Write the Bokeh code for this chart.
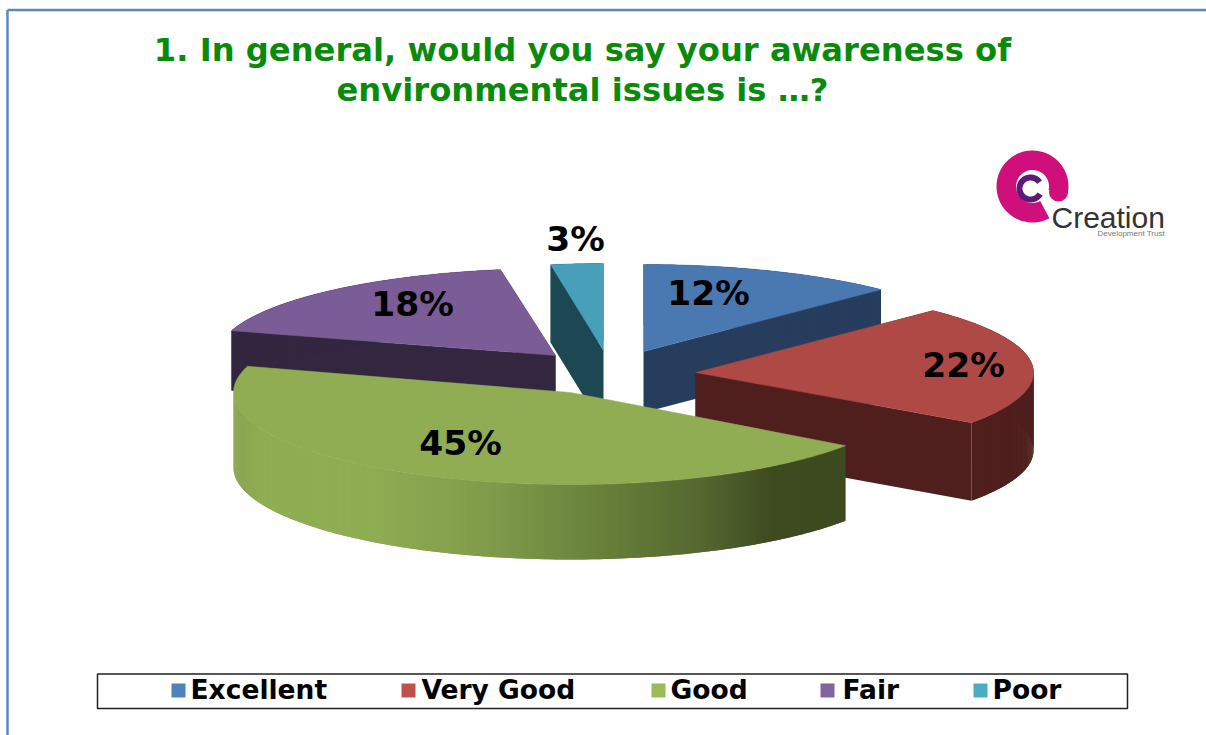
import math
from bokeh.plotting import figure
from bokeh.models import Range1d
from bokeh.core.properties import value
from bokeh.embed import file_html
from bokeh.resources import INLINE

title_lines = ["1. In general, would you say your awareness of", "environmental issues is …?"]
categories = ["Excellent", "Very Good", "Good", "Fair", "Poor"]
shares = [12.4, 22.4, 44.8, 17.8, 2.6]

legend_colors = ["#4F81BD", "#C0504D", "#9BBB59", "#8064A2", "#4BACC6"]
top_colors = ["#4A78B0", "#AE4946", "#90AD53", "#7A5C96", "#46A0BA"]
wall_colors = ["#263D5E", "#4F1F1E", "#3E4A20", "#33263F", "#1D4753"]

# exploded position of each slice apex and its extrusion, in page pixels
apex_x = [643, 695, 570, 555, 603]
apex_y = [351, 372, 392, 355, 350]
radius_x = [338, 338, 337, 338, 325]
radius_y = [87, 87, 92, 87, 87]
depth = [61, 78, 75, 60, 78]
label_x = [708, 963, 460, 412, 575]
label_y = [306, 378, 456, 317, 252]
legend_swatch_x = [178, 408, 658, 827, 980]
legend_text_x = [190, 421, 670, 842, 992]
draw_order = [3, 4, 0, 1, 2]

# colour stops of the shaded green wall: x pixel, rgb
shade_stops = [(233, (135, 162, 78)), (258, (143, 173, 83)), (370, (143, 173, 83)),
               (500, (126, 153, 73)), (600, (104, 128, 58)), (700, (84, 104, 48)),
               (770, (62, 74, 32)), (846, (62, 74, 32))]


def shade(x):
    for (x0, c0), (x1, c1) in zip(shade_stops, shade_stops[1:]):
        if x <= x1:
            t = max(0, (x - x0) / (x1 - x0))
            return "#%02x%02x%02x" % tuple(round(a + (b - a) * t) for a, b in zip(c0, c1))
    return "#3e4a20"


def arc(i, a0, a1, step=1.0):
    n = max(2, int(abs(a1 - a0) / step) + 1)
    out = []
    for k in range(n + 1):
        a = math.radians(a0 + (a1 - a0) * k / n)
        out.append((apex_x[i] + radius_x[i] * math.sin(a), apex_y[i] - radius_y[i] * math.cos(a)))
    return out


p = figure(width=1206, height=735, x_range=Range1d(0, 1206), y_range=Range1d(735, 0),
           output_backend="svg", toolbar_location=None, min_border=0, outline_line_color=None,
           background_fill_color="#ffffff", border_fill_color="#ffffff")
p.axis.visible = False
p.grid.visible = False


def label(x, y, s, px, color="#000000", font="DejaVu Sans", style="bold", align="left"):
    # baseline correction measured on the rendered svg
    p.text([x], [y - 0.38 * px], text=[s], text_font=value(font), text_font_style=style,
           text_font_size=f"{px}px", text_color=color, text_align=align, text_baseline="alphabetic")


# page frame
p.line([7, 7], [735, 9.5], line_color="#5B86C4", line_width=2.5)
p.line([7, 1206], [9.5, 9.5], line_color="#5B86C4", line_width=2.5)

for line, yy in zip(title_lines, [62, 102]):
    label(582, yy, line, 32.2, color="#0A8A0A", align="center")

# pie
cum = 0
angles = []
for s in shares:
    angles.append((cum / 100 * 360, (cum + s) / 100 * 360))
    cum += s

for i in draw_order:
    a0, a1 = angles[i]
    d = depth[i]
    ax, ay = apex_x[i], apex_y[i]
    rim = arc(i, a0, a1)
    good = categories[i] == "Good"
    # outer wall: overlapping quads, so that no seams show
    front = arc(i, a0, 270 if good else a1, 0.4)
    xs, ys, cs = [], [], []
    if not good:
        for q in (rim[0], rim[-1]):
            xs.append([ax, q[0], q[0], ax])
            ys.append([ay, q[1], q[1] + d, ay + d])
            cs.append(wall_colors[i])
    for (x0, y0), (x1, y1) in zip(front, front[2:]):
        xs.append([x0, x1, x1, x0])
        ys.append([y0, y1, y1 + d, y0 + d])
        cs.append(shade((x0 + x1) / 2) if good else wall_colors[i])
    p.patches(xs, ys, fill_color=cs, line_color=None)
    p.patch([ax] + [q[0] for q in rim], [ay] + [q[1] for q in rim],
            fill_color=top_colors[i], line_color=top_colors[i], line_width=0.5)

# percentage labels
for s, x, y in zip(shares, label_x, label_y):
    label(x, y, f"{round(s)}%", 34.5, align="center")

# legend
p.quad(left=[97], right=[1127], top=[673.5], bottom=[708], fill_color="#ffffff",
       line_color="#222222", line_width=1.5)
for c, sx, tx, name in zip(legend_colors, legend_swatch_x, legend_text_x, categories):
    p.rect([sx], [690], width=14, height=14, fill_color=c, line_color=None)
    label(tx, 699, name, 26.5)


# logo
def ring(cx, cy, r_out, r_in, a0, a1):
    pts = [math.radians(a0 + (a1 - a0) * k / 80) for k in range(81)]
    xs = [cx + r_out * math.cos(a) for a in pts] + [cx + r_in * math.cos(a) for a in reversed(pts)]
    ys = [cy + r_out * math.sin(a) for a in pts] + [cy + r_in * math.sin(a) for a in reversed(pts)]
    return xs, ys


mx, my = ring(1032, 186, 36, 16.5, 62, 372)
p.patch(mx, my, fill_color="#CF0F7C", line_color=None)
p.circle([1058], [191.5], radius=9.5, fill_color="#CF0F7C", line_color=None)
vx, vy = ring(1030, 188, 14, 8, 30, 325)
p.patch(vx, vy, fill_color="#5E1A78", line_color=None)
label(1051, 228, "Creation", 30, color="#333333", font="Liberation Sans", style="normal")
label(1097, 236, "Development Trust", 8, color="#777777", font="Liberation Sans", style="normal")

open("out.html", "w").write(file_html(p, INLINE))
